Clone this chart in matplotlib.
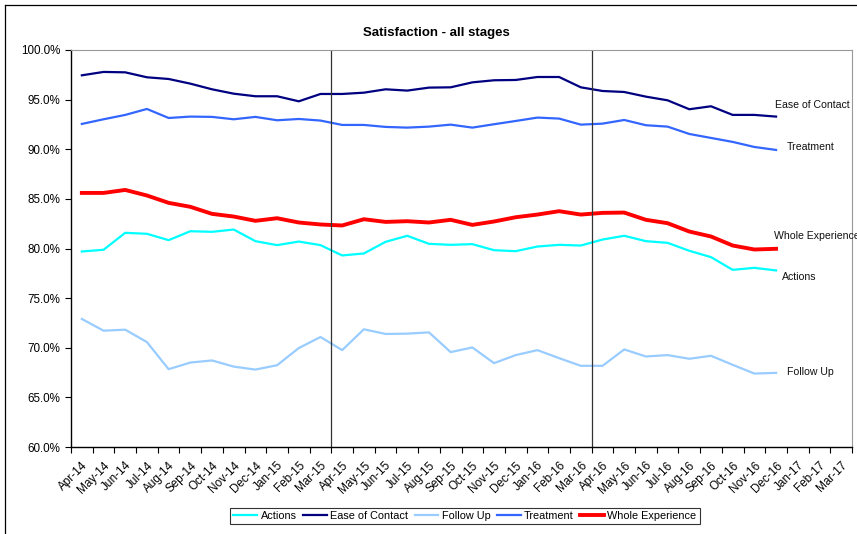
import matplotlib
matplotlib.use("Agg")
import matplotlib.pyplot as plt
from matplotlib.lines import Line2D
from matplotlib.ticker import FuncFormatter

plt.rcParams['font.family'] = ['Liberation Sans', 'DejaVu Sans']

# --------------------------
# Data (percent)
# --------------------------
months = ['Apr-14', 'May-14', 'Jun-14', 'Jul-14', 'Aug-14', 'Sep-14', 'Oct-14', 'Nov-14',
          'Dec-14', 'Jan-15', 'Feb-15', 'Mar-15', 'Apr-15', 'May-15', 'Jun-15', 'Jul-15',
          'Aug-15', 'Sep-15', 'Oct-15', 'Nov-15', 'Dec-15', 'Jan-16', 'Feb-16', 'Mar-16',
          'Apr-16', 'May-16', 'Jun-16', 'Jul-16', 'Aug-16', 'Sep-16', 'Oct-16', 'Nov-16',
          'Dec-16', 'Jan-17', 'Feb-17', 'Mar-17']

actions = [79.7, 79.87, 81.58, 81.48, 80.84, 81.74, 81.68, 81.91, 80.74, 80.34, 80.7, 80.34,
           79.3, 79.5, 80.67, 81.28, 80.47, 80.37, 80.44, 79.83, 79.73, 80.2, 80.37, 80.3,
           80.9, 81.28, 80.74, 80.57, 79.77, 79.13, 77.85, 78.05, 77.79]
ease_of_contact = [97.45, 97.79, 97.75, 97.25, 97.08, 96.61, 96.04, 95.6, 95.34, 95.34, 94.83, 95.57,
                   95.57, 95.7, 96.04, 95.91, 96.21, 96.24, 96.74, 96.95, 96.98, 97.28, 97.28, 96.24,
                   95.87, 95.77, 95.3, 94.93, 94.03, 94.33, 93.46, 93.46, 93.29]
follow_up = [72.9, 71.72, 71.82, 70.57, 67.84, 68.51, 68.72, 68.1, 67.8, 68.24, 69.97, 71.08,
             69.76, 71.86, 71.39, 71.42, 71.55, 69.56, 70.03, 68.45, 69.26, 69.76, 68.95, 68.18,
             68.18, 69.83, 69.12, 69.26, 68.89, 69.19, 68.28, 67.4, 67.47]
treatment = [92.55, 93.02, 93.46, 94.06, 93.15, 93.29, 93.26, 93.02, 93.26, 92.92, 93.05, 92.89,
             92.45, 92.45, 92.25, 92.18, 92.28, 92.48, 92.18, 92.52, 92.85, 93.19, 93.09, 92.48,
             92.58, 92.95, 92.42, 92.28, 91.54, 91.14, 90.74, 90.23, 89.93]
whole_experience = [85.6, 85.6, 85.9, 85.34, 84.6, 84.2, 83.49, 83.22, 82.79, 83.05, 82.62, 82.42,
                    82.32, 82.95, 82.68, 82.75, 82.62, 82.89, 82.38, 82.72, 83.15, 83.42, 83.76, 83.42,
                    83.59, 83.62, 82.89, 82.55, 81.71, 81.21, 80.3, 79.9, 79.97]

series_names = ['Actions', 'Ease of Contact', 'Follow Up', 'Treatment', 'Whole Experience']
series_values = [actions, ease_of_contact, follow_up, treatment, whole_experience]
series_colors = ['#00FFFF', '#000080', '#99CCFF', '#3366FF', '#FF0000']
series_widths = [1.6, 1.6, 1.6, 1.6, 2.8]

# end-of-line labels: (x in category units, y in percent)
label_pos = [(32.25, 77.15), (31.95, 94.45), (32.5, 67.55), (32.5, 90.25), (31.9, 81.25)]

# stage boundaries (between Mar and Apr)
stage_breaks = ['Apr-15', 'Apr-16']

# --------------------------
# Plot
# --------------------------
fig = plt.figure(figsize=(8.57, 5.34), dpi=100)
ax = fig.add_axes([71 / 857, 1 - 447 / 534, (852 - 71) / 857, (447 - 50) / 534])

for name, vals, col, lw in zip(series_names, series_values, series_colors, series_widths):
    ax.plot(range(len(vals)), vals, color=col, lw=lw, label=name, solid_joinstyle='round')

for (lx, ly), name in zip(label_pos, series_names):
    ax.text(lx, ly, name, fontsize=7.6, va='center', ha='left', color='#111111')

for b in stage_breaks:
    ax.axvline(months.index(b) - 0.5, color='#333333', lw=0.9)

ax.set_xlim(-0.5, len(months) - 0.5)
ax.set_ylim(60, 100)
ax.set_yticks(range(60, 101, 5))
ax.yaxis.set_major_formatter(FuncFormatter(lambda v, p: f'{v:.1f}%'))
ax.tick_params(axis='y', labelsize=8.4, length=4, direction='out', width=0.8)

ax.set_xticks(range(len(months)))
ax.set_xticklabels(months, rotation=45, ha='right', va='top', rotation_mode='anchor', fontsize=8.5)
ax.set_xticks([i - 0.5 for i in range(len(months) + 1)], minor=True)
ax.tick_params(axis='x', which='major', length=0, pad=9)
ax.tick_params(axis='x', which='minor', length=4, direction='out', width=0.8)

for side in ['top', 'right']:
    ax.spines[side].set_color('#999999')
for side in ['left', 'bottom']:
    ax.spines[side].set_color('black')
    ax.spines[side].set_linewidth(1.0)

fig.text(436 / 857, 1 - 33 / 534, 'Satisfaction - all stages', ha='center', va='center',
         fontsize=9.5, fontweight='bold')

leg = fig.legend(loc='center', bbox_to_anchor=(465 / 857, 1 - 516 / 534), ncol=5,
                 fontsize=7.8, frameon=True, fancybox=False, edgecolor='black',
                 handlelength=2.2, handletextpad=0.3, columnspacing=0.6,
                 borderpad=0.3, borderaxespad=0)
leg.get_frame().set_linewidth(0.8)

# outer chart border (runs off the right and bottom edges)
fig.add_artist(Line2D([5 / 857, 1], [1 - 5 / 534, 1 - 5 / 534], color='black', lw=0.9))
fig.add_artist(Line2D([5 / 857, 5 / 857], [0, 1 - 5 / 534], color='black', lw=0.9))

fig.savefig('out.png', dpi=100)
